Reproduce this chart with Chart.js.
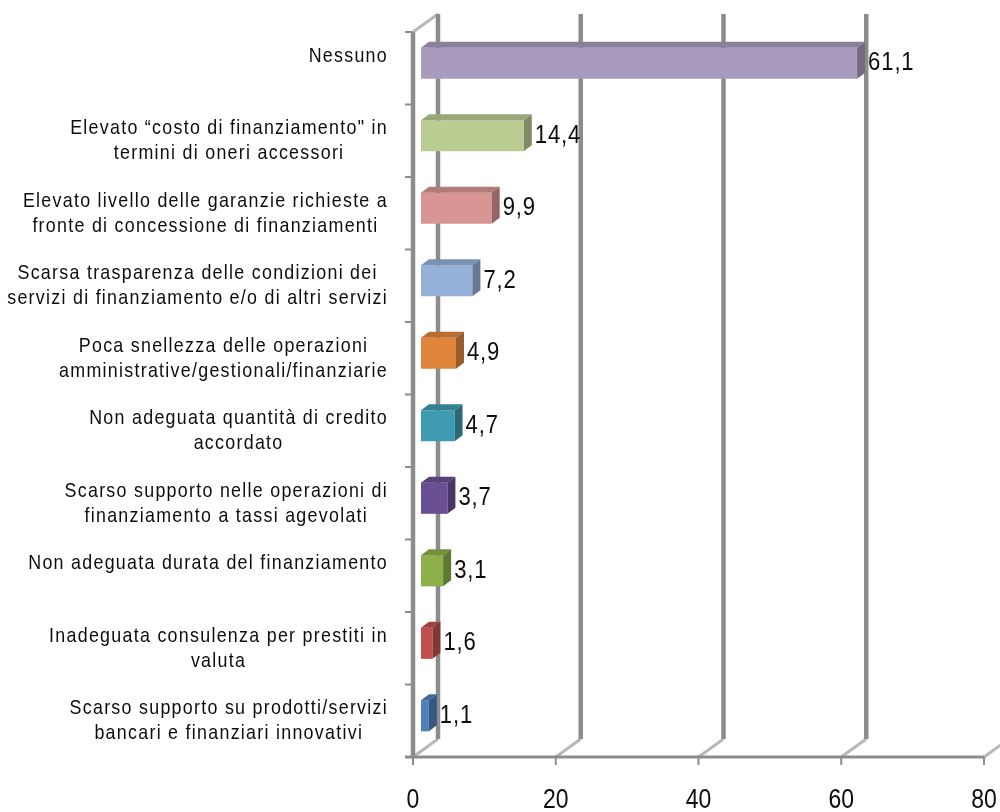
<!DOCTYPE html>
<html>
<head>
<meta charset="utf-8">
<script src="https://cdn.jsdelivr.net/npm/chart.js@4.4.1/dist/chart.umd.min.js"></script>
<style>
  html, body { margin: 0; padding: 0; background: #fff; }
  canvas { display: block; }
</style>
</head>
<body>
<canvas id="ostacoliChart" width="1000" height="812"></canvas>
<script>
// Dati del grafico
const categories = [
    ['Nessuno'],
    ['Elevato “costo di finanziamento" in', 'termini di oneri accessori'],
    ['Elevato livello delle garanzie richieste a', 'fronte di concessione di finanziamenti'],
    ['Scarsa trasparenza delle condizioni dei', 'servizi di finanziamento e/o di altri servizi'],
    ['Poca snellezza delle operazioni', 'amministrative/gestionali/finanziarie'],
    ['Non adeguata quantità di credito', 'accordato'],
    ['Scarso supporto nelle operazioni di', 'finanziamento a tassi agevolati'],
    ['Non adeguata durata del finanziamento'],
    ['Inadeguata consulenza per prestiti in', 'valuta'],
    ['Scarso supporto su prodotti/servizi', 'bancari e finanziari innovativi']
];
const values = [61.1, 14.4, 9.9, 7.2, 4.9, 4.7, 3.7, 3.1, 1.6, 1.1];
const barColors = ['#a99bbd', '#b9cd93', '#d99593', '#95b1d9', '#e0863c',
                   '#3f9bb2', '#6a4f95', '#8db04b', '#c0504d', '#4f81bd'];
const xTicks = [0, 20, 40, 60, 80];

const FONT = "'Liberation Sans', Arial, sans-serif";
// profondità delle pareti e posizione delle barre al loro interno
const wall = { dx: 25, dy: -18 };
const barShift = { dx: 8, dy: -5 };
const barDepth = { dx: 8, dy: -6 };

function shade(hex, f) {
    const n = parseInt(hex.slice(1), 16);
    const r = Math.round(((n >> 16) & 255) * f);
    const g = Math.round(((n >> 8) & 255) * f);
    const b = Math.round((n & 255) * f);
    return `rgb(${r},${g},${b})`;
}

function line(ctx, x1, y1, x2, y2) {
    ctx.beginPath();
    ctx.moveTo(x1, y1);
    ctx.lineTo(x2, y2);
    ctx.stroke();
}

function poly(ctx, pts, fill) {
    ctx.beginPath();
    ctx.moveTo(pts[0][0], pts[0][1]);
    pts.slice(1).forEach(p => ctx.lineTo(p[0], p[1]));
    ctx.closePath();
    ctx.fillStyle = fill;
    ctx.fill();
}

// testo stretto (stile "narrow"), compresso in orizzontale
function narrowText(ctx, text, x, y, align, size, sx, spacing) {
    ctx.save();
    ctx.font = `${size}px ${FONT}`;
    ctx.letterSpacing = spacing + 'px';
    ctx.fillStyle = '#0d0d0d';
    ctx.textAlign = align;
    ctx.textBaseline = 'middle';
    ctx.translate(x, y);
    ctx.scale(sx, 1);
    ctx.fillText(text, 0, 0);
    ctx.restore();
}

function narrowWidth(ctx, text, size, sx, spacing) {
    ctx.save();
    ctx.font = `${size}px ${FONT}`;
    ctx.letterSpacing = spacing + 'px';
    const w = ctx.measureText(text).width * sx;
    ctx.restore();
    return w;
}

// Pareti, griglia e facce 3D delle barre
const frame3d = {
    id: 'frame3d',
    beforeDatasetsDraw(chart) {
        const { ctx, chartArea: a, scales: { x } } = chart;
        ctx.save();
        ctx.lineCap = 'butt';

        // spigoli del pavimento e della parete sinistra
        ctx.strokeStyle = '#b8b8b8';
        ctx.lineWidth = 3;
        xTicks.forEach(v => {
            const px = x.getPixelForValue(v);
            line(ctx, px, a.bottom, px + wall.dx, a.bottom + wall.dy);
        });
        line(ctx, a.left, a.top, a.left + wall.dx, a.top + wall.dy);

        // linee verticali della parete di fondo
        ctx.strokeStyle = '#8c8c8c';
        ctx.lineWidth = 4.5;
        xTicks.forEach(v => {
            const px = x.getPixelForValue(v) + wall.dx;
            line(ctx, px, a.top + wall.dy, px, a.bottom + wall.dy);
        });

        // asse verticale frontale con tacche
        line(ctx, a.left, a.top, a.left, a.bottom);
        ctx.lineWidth = 2;
        const band = (a.bottom - a.top) / categories.length;
        for (let i = 0; i < categories.length; i++) {
            const py = a.top + i * band;
            line(ctx, a.left - 8, py, a.left, py);
        }

        // asse orizzontale con tacche
        ctx.lineWidth = 3;
        line(ctx, a.left - 8, a.bottom, x.getPixelForValue(80), a.bottom);
        ctx.lineWidth = 2;
        xTicks.forEach(v => {
            const px = x.getPixelForValue(v);
            line(ctx, px, a.bottom, px, a.bottom + 8);
        });
        ctx.restore();

        // le barre stanno a metà profondità
        ctx.save();
        ctx.translate(barShift.dx, barShift.dy);
    },
    afterDatasetsDraw(chart) {
        const ctx = chart.ctx;
        const meta = chart.getDatasetMeta(0);
        meta.data.forEach((bar, i) => {
            const { x: right, y, base, height } = bar.getProps(['x', 'y', 'base', 'height'], true);
            const top = y - height / 2;
            const bottom = y + height / 2;
            const c = barColors[i];
            poly(ctx, [[base, top], [right, top], [right + barDepth.dx, top + barDepth.dy],
                       [base + barDepth.dx, top + barDepth.dy]], shade(c, 0.82));
            poly(ctx, [[right, top], [right + barDepth.dx, top + barDepth.dy],
                       [right + barDepth.dx, bottom + barDepth.dy], [right, bottom]], shade(c, 0.68));

            // etichetta del valore
            narrowText(ctx, values[i].toFixed(1).replace('.', ','),
                       right + barDepth.dx + 3, y, 'left', 26, 0.85, 1);
        });
        ctx.restore();
    },
    afterDraw(chart) {
        const { ctx, chartArea: a, scales: { x, y } } = chart;

        // etichette dell'asse orizzontale
        xTicks.forEach(v => {
            narrowText(ctx, String(v), x.getPixelForValue(v), a.bottom + 43, 'center', 28, 0.82, 0);
        });

        // etichette delle categorie: blocco allineato a destra, righe centrate
        const rightEdge = 388;
        const lineH = 25;
        categories.forEach((lines, i) => {
            const cy = y.getPixelForValue(i);
            const rows = lines.length === 1 ? [lines[0], ''] : lines;
            const w = Math.max(...rows.map(t => narrowWidth(ctx, t, 21, 0.85, 1.5)));
            const cx = rightEdge - w / 2;
            rows.forEach((t, k) => {
                narrowText(ctx, t, cx, cy + (k - (rows.length - 1) / 2) * lineH, 'center', 21, 0.85, 1.5);
            });
        });
    }
};

new Chart(document.getElementById('ostacoliChart').getContext('2d'), {
    type: 'bar',
    data: {
        labels: categories,
        datasets: [{
            data: values,
            backgroundColor: barColors,
            borderWidth: 0,
            barPercentage: 0.43,
            categoryPercentage: 1
        }]
    },
    options: {
        indexAxis: 'y',
        responsive: false,
        animation: false,
        layout: { padding: { top: 32, right: 16, left: 0, bottom: 0 } },
        plugins: {
            legend: { display: false },
            tooltip: { enabled: false }
        },
        scales: {
            x: {
                min: 0,
                max: 80,
                afterFit(scale) { scale.height = 55; },
                afterBuildTicks(scale) { scale.ticks = xTicks.map(v => ({ value: v })); },
                grid: { display: false, drawTicks: false },
                border: { display: false },
                ticks: { display: false }
            },
            y: {
                afterFit(scale) { scale.width = 413; },
                grid: { display: false, drawTicks: false },
                border: { display: false },
                ticks: { display: false }
            }
        }
    },
    plugins: [frame3d]
});
</script>
</body>
</html>
